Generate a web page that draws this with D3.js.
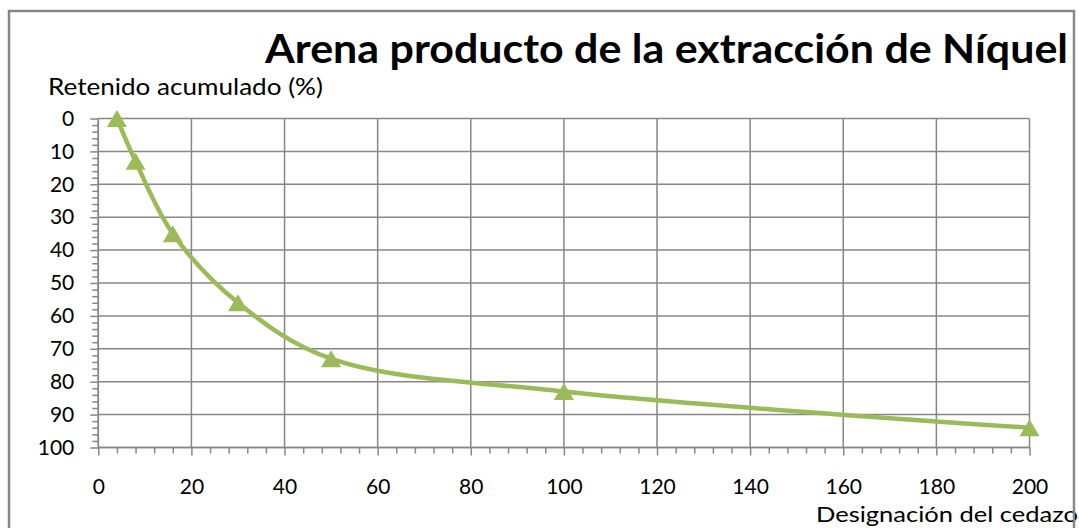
<!DOCTYPE html>
<html>
<head>
<meta charset="utf-8">
<script src="https://cdn.jsdelivr.net/npm/d3@7"></script>
<style>
  html, body { margin: 0; padding: 0; background: #ffffff; }
  svg { display: block; }
  text { font-family: Lato, "Open Sans", sans-serif; fill: #000; }
</style>
</head>
<body>
<svg id="chart" width="1079" height="528"></svg>
<script>
// ---- data ----
const sieves = [4, 8, 16, 30, 50, 100, 200];            // Designación del cedazo
const retained = [0, 13, 35, 56, 73, 83, 94];            // Retenido acumulado (%)
const xTickValues = [0, 20, 40, 60, 80, 100, 120, 140, 160, 180, 200];
const yTickValues = [0, 10, 20, 30, 40, 50, 60, 70, 80, 90, 100];
const titleText = "Arena producto de la extracción de Níquel";
const yTitleText = "Retenido acumulado (%)";
const xTitleText = "Designación del cedazo";

// ---- layout ----
const W = 1079, H = 528;
const plot = { left: 98.3, right: 1029.5, top: 118.5, bottom: 447.5 };
const gridColor = "#878787";
const seriesColor = "#9BBB59";

const svg = d3.select("#chart");
svg.append("rect").attr("width", W).attr("height", H).attr("fill", "#fff");

const x = d3.scaleLinear().domain([0, 200]).range([plot.left, plot.right]);
const y = d3.scaleLinear().domain([0, 100]).range([plot.top, plot.bottom]);

// gridlines
const grid = svg.append("g").attr("stroke", gridColor).attr("stroke-width", 1.5).attr("fill", "none");
grid.selectAll("line.h").data(yTickValues).join("line").attr("class", "h")
  .attr("x1", plot.left).attr("x2", plot.right)
  .attr("y1", d => y(d)).attr("y2", d => y(d));
grid.selectAll("line.v").data(xTickValues).join("line").attr("class", "v")
  .attr("y1", plot.top).attr("y2", plot.bottom)
  .attr("x1", d => x(d)).attr("x2", d => x(d));

// minor ticks
const yMinor = d3.range(0, 101, 2).filter(v => v % 10 !== 0);
const xMinor = d3.range(0, 201, 4).filter(v => v % 20 !== 0);

const yAxisMinor = svg.append("g").attr("transform", `translate(${plot.left},0)`)
  .call(d3.axisLeft(y).tickValues(yMinor).tickSize(6).tickFormat(""));
const xAxisMinor = svg.append("g").attr("transform", `translate(0,${plot.bottom})`)
  .call(d3.axisBottom(x).tickValues(xMinor).tickSize(6).tickFormat(""));

// major axes
const yAxis = svg.append("g").attr("transform", `translate(${plot.left},0)`)
  .call(d3.axisLeft(y).tickValues(yTickValues).tickSize(8).tickPadding(16).tickFormat(d3.format("d")));
const xAxis = svg.append("g").attr("transform", `translate(0,${plot.bottom})`)
  .call(d3.axisBottom(x).tickValues(xTickValues).tickSize(8).tickPadding(24).tickFormat(d3.format("d")));

[yAxisMinor, xAxisMinor, yAxis, xAxis].forEach(g => {
  g.selectAll(".domain").remove();
  g.selectAll(".tick line").attr("stroke", gridColor).attr("stroke-width", 1.5);
  g.selectAll(".tick text").attr("font-family", "Lato, sans-serif").attr("font-size", 21).attr("fill", "#000");
});
svg.append("line").attr("x1", plot.left).attr("x2", plot.left).attr("y1", plot.top).attr("y2", plot.bottom)
  .attr("stroke", gridColor).attr("stroke-width", 1.5);
svg.append("line").attr("x1", plot.left).attr("x2", plot.right).attr("y1", plot.bottom).attr("y2", plot.bottom)
  .attr("stroke", gridColor).attr("stroke-width", 1.5);

// series line
const pts = sieves.map((s, i) => [s, retained[i]]);
const line = d3.line().x(d => x(d[0])).y(d => y(d[1])).curve(d3.curveCatmullRom.alpha(0.5));
svg.append("path").datum(pts).attr("d", line)
  .attr("fill", "none").attr("stroke", seriesColor).attr("stroke-width", 4.5).attr("stroke-linejoin", "round");

// triangle markers (bbox-centred)
const tw = 20, th = 17;
const tri = `M0,${-th / 2}L${tw / 2},${th / 2}L${-tw / 2},${th / 2}Z`;
svg.append("g").selectAll("path").data(pts).join("path")
  .attr("transform", d => `translate(${x(d[0])},${y(d[1])})`)
  .attr("d", tri).attr("fill", seriesColor);

// titles
svg.append("text").attr("x", 265).attr("y", 63)
  .attr("font-size", 41).attr("font-weight", "bold")
  .attr("textLength", 803).attr("lengthAdjust", "spacingAndGlyphs")
  .text(titleText);
svg.append("text").attr("x", 48).attr("y", 95)
  .attr("font-size", 23)
  .attr("textLength", 275).attr("lengthAdjust", "spacingAndGlyphs")
  .text(yTitleText);
svg.append("text").attr("x", 816).attr("y", 522)
  .attr("font-size", 21)
  .attr("textLength", 262).attr("lengthAdjust", "spacingAndGlyphs")
  .text(xTitleText);

// outer chart frame
svg.append("rect").attr("x", 9).attr("y", 11).attr("width", 1065).attr("height", 540)
  .attr("fill", "none").attr("stroke", gridColor).attr("stroke-width", 2.5);
</script>
</body>
</html>
